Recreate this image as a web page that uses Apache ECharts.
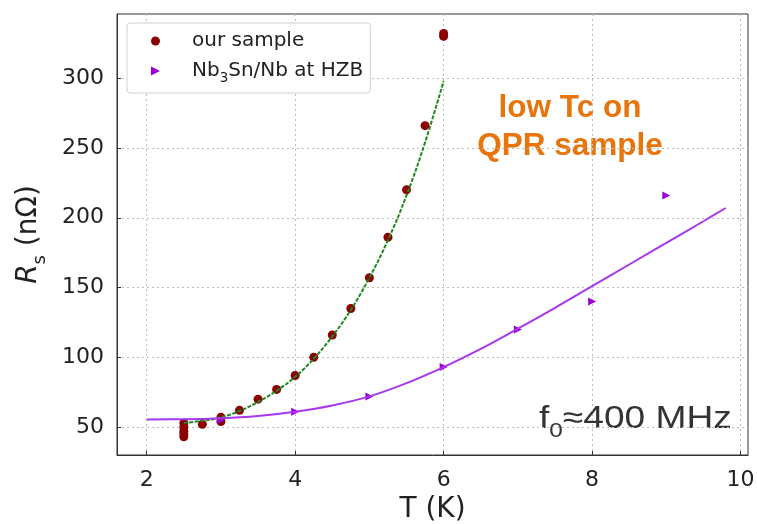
<!DOCTYPE html>
<html>
<head>
<meta charset="utf-8">
<script src="https://cdn.jsdelivr.net/npm/echarts@6/dist/echarts.min.js"></script>
<style>
  html, body { margin: 0; padding: 0; background: #fff; }
  #main { width: 757px; height: 524px; }
</style>
</head>
<body>
<div id="main"></div>
<script>
// measured points, our sample
const tOurs = [2.5, 2.5, 2.5, 2.5, 2.5, 2.75, 3.0, 3.0, 3.25, 3.5, 3.75, 4.0, 4.25, 4.5, 4.75, 5.0, 5.25, 5.5, 5.75, 6.0, 6.0];
const rsOurs = [43, 45, 47, 50, 53, 52, 54, 57, 62, 70, 77, 87, 100, 116, 135, 157, 186, 220, 266, 330, 332];

// Nb3Sn/Nb at HZB
const tHzb = [3, 4, 5, 6, 7, 8, 9];
const rsHzb = [55, 61, 72, 93, 120, 140, 216];

// fit curves
const tFitOurs = [2.5, 2.75, 3.0, 3.25, 3.5, 3.75, 4.0, 4.25, 4.5, 4.75, 5.0, 5.25, 5.5, 5.75, 6.0];
const rsFitOurs = [53, 54.5, 57, 61.5, 68, 76, 86, 99, 115, 134, 157, 184, 216, 254, 298];
const tFitHzb = [2, 2.5, 3, 3.5, 4, 4.5, 5, 5.5, 6, 6.5, 7, 7.5, 8, 8.5, 9, 9.5, 9.8];
const rsFitHzb = [55.5, 55.6, 56.3, 58, 61, 65.5, 72, 81.5, 93, 106, 120.5, 135.5, 151, 166.5, 182, 197.5, 207];

const xTicks = [2, 4, 6, 8, 10];
const yTicks = [50, 100, 150, 200, 250, 300];

const pair = (xs, ys) => xs.map((x, i) => [x, ys[i]]);
const TRI = 'path://M0,0L10,5L0,10Z';
const TXT = '#222';

const chart = echarts.init(document.getElementById('main'));
chart.setOption({
    animation: false,
    textStyle: { fontFamily: 'DejaVu Sans' },
    grid: {
        left: 117, right: 9, top: 14, bottom: 69,
        outerBoundsMode: 'none',
        show: true, borderColor: '#333', borderWidth: 1
    },
    legend: {
        data: ['our sample', 'Nb3Sn/Nb at HZB'],
        orient: 'vertical',
        left: 127, top: 23,
        padding: [8, 7, 8, 24],
        itemWidth: 9, itemHeight: 9, itemGap: 10,
        borderColor: '#d0d0d0', borderWidth: 1, borderRadius: 3,
        backgroundColor: '#fff',
        formatter: (name) => name === 'Nb3Sn/Nb at HZB'
            ? '{g|}{a|Nb}{s|3}{a|Sn/Nb at HZB}'
            : '{g|}{a|' + name + '}',
        textStyle: {
            rich: {
                g: { width: 27, lineHeight: 18 },
                a: { fontSize: 20, lineHeight: 18, color: TXT, fontFamily: 'DejaVu Sans' },
                s: { fontSize: 13.5, lineHeight: 18, color: TXT, fontFamily: 'DejaVu Sans', verticalAlign: 'bottom', padding: [0, 0, -5, 0] }
            }
        }
    },
    xAxis: {
        type: 'value', min: 1.6, max: 10.1,
        name: 'T (K)', nameLocation: 'middle', nameGap: 38,
        nameTextStyle: { fontSize: 28, color: TXT },
        axisLine: { show: true, onZero: false, lineStyle: { color: '#333' } },
        axisTick: { show: true, inside: true, length: 4, customValues: xTicks, lineStyle: { color: '#333' } },
        axisLabel: { customValues: xTicks, fontSize: 22, color: TXT, margin: 14 },
        splitLine: { show: true, lineStyle: { color: '#bdbdbd', type: [2, 3] } }
    },
    yAxis: {
        type: 'value', min: 30, max: 346,
        name: '{i|R}{s|s}{n| (nΩ)}', nameLocation: 'middle', nameGap: 74,
        nameTextStyle: {
            rich: {
                i: { fontSize: 28, fontStyle: 'italic', color: TXT },
                s: { fontSize: 18, color: TXT, verticalAlign: 'bottom', padding: [0, 0, -6, 0] },
                n: { fontSize: 28, color: TXT }
            }
        },
        axisLine: { show: true, onZero: false, lineStyle: { color: '#333' } },
        axisTick: { show: true, inside: true, length: 4, customValues: yTicks, lineStyle: { color: '#333' } },
        axisLabel: { customValues: yTicks, fontSize: 22, color: TXT, margin: 13 },
        splitLine: { show: true, lineStyle: { color: '#bdbdbd', type: [2, 3] } }
    },
    series: [
        {
            name: 'our sample', type: 'scatter', data: pair(tOurs, rsOurs),
            symbol: 'circle', symbolSize: 9, itemStyle: { color: '#8b0000', opacity: 1 }, z: 2
        },
        {
            name: 'Nb3Sn/Nb at HZB', type: 'scatter', data: pair(tHzb, rsHzb),
            symbol: TRI, symbolSize: [8, 8], itemStyle: { color: '#9a00d6', opacity: 1 }, z: 3
        },
        {
            name: 'fit ours', type: 'line', data: pair(tFitOurs, rsFitOurs), smooth: 0.4,
            showSymbol: false, lineStyle: { color: '#1f8a1f', width: 2, type: [4, 1.5] }, z: 4
        },
        {
            name: 'fit hzb', type: 'line', data: pair(tFitHzb, rsFitHzb), smooth: 0.4,
            showSymbol: false, lineStyle: { color: '#a838ee', width: 2 }, z: 4
        }
    ],
    graphic: [
        {
            type: 'text', x: 570, y: 127,
            style: {
                text: 'low Tc on\nQPR sample', align: 'center', verticalAlign: 'middle',
                font: 'bold 31.5px "Liberation Sans", Arial, sans-serif', fill: '#e8740c', lineHeight: 38
            }
        },
        {
            type: 'text', x: 539, y: 419, scaleX: 1.16,
            style: {
                text: '{a|f}{s|0}{a|≈400 MHz}', verticalAlign: 'middle',
                rich: {
                    a: { font: '32px "Liberation Sans", Arial, sans-serif', fill: '#333', lineHeight: 36 },
                    s: { font: '21px "Liberation Sans", Arial, sans-serif', fill: '#333', verticalAlign: 'bottom', lineHeight: 36, padding: [0, 0, -5, 0] }
                }
            }
        }
    ]
});
</script>
</body>
</html>
